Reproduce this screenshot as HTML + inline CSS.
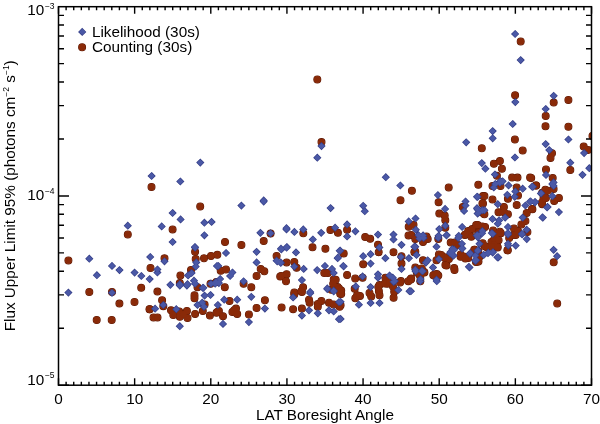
<!DOCTYPE html>
<html><head><meta charset="utf-8"><style>
html,body{margin:0;padding:0;background:#fff;}
svg{display:block;-webkit-font-smoothing:antialiased;will-change:transform;font-family:"Liberation Sans",sans-serif;}
</style></head><body>
<svg width="600" height="424" viewBox="0 0 600 424">
<defs><clipPath id="pc"><rect x="58.5" y="6.7" width="533.0" height="378.5"/></clipPath></defs>
<rect width="600" height="424" fill="#fff"/>
<g clip-path="url(#pc)">
<g fill="none" stroke="#5e1804" stroke-width="1.1"><circle cx="317.3" cy="79.5" r="3.45"/><circle cx="520.7" cy="41.4" r="3.45"/><circle cx="515.1" cy="95.2" r="3.45"/><circle cx="553.7" cy="102.6" r="3.45"/><circle cx="568.4" cy="100.0" r="3.45"/><circle cx="321.5" cy="142.1" r="3.45"/><circle cx="481.8" cy="148.3" r="3.45"/><circle cx="493.9" cy="163.7" r="3.45"/><circle cx="499.9" cy="161.1" r="3.45"/><circle cx="501.9" cy="168.7" r="3.45"/><circle cx="496.9" cy="175.8" r="3.45"/><circle cx="545.7" cy="116.0" r="3.45"/><circle cx="545.5" cy="126.3" r="3.45"/><circle cx="568.4" cy="126.7" r="3.45"/><circle cx="514.9" cy="139.5" r="3.45"/><circle cx="592.5" cy="136.0" r="3.45"/><circle cx="522.7" cy="150.5" r="3.45"/><circle cx="552.0" cy="153.2" r="3.45"/><circle cx="550.5" cy="157.9" r="3.45"/><circle cx="583.7" cy="146.5" r="3.45"/><circle cx="588.2" cy="149.9" r="3.45"/><circle cx="570.3" cy="170.0" r="3.45"/><circle cx="546.0" cy="169.5" r="3.45"/><circle cx="552.7" cy="178.0" r="3.45"/><circle cx="512.1" cy="177.6" r="3.45"/><circle cx="517.5" cy="177.6" r="3.45"/><circle cx="530.1" cy="177.6" r="3.45"/><circle cx="151.5" cy="187.0" r="3.45"/><circle cx="127.8" cy="234.4" r="3.45"/><circle cx="200.2" cy="206.5" r="3.45"/><circle cx="172.6" cy="229.4" r="3.45"/><circle cx="225.0" cy="242.0" r="3.45"/><circle cx="241.4" cy="245.0" r="3.45"/><circle cx="270.6" cy="233.6" r="3.45"/><circle cx="263.7" cy="241.1" r="3.45"/><circle cx="303.3" cy="233.3" r="3.45"/><circle cx="312.5" cy="247.3" r="3.45"/><circle cx="325.4" cy="248.7" r="3.45"/><circle cx="330.4" cy="229.9" r="3.45"/><circle cx="337.9" cy="232.8" r="3.45"/><circle cx="411.9" cy="190.8" r="3.45"/><circle cx="400.5" cy="200.2" r="3.45"/><circle cx="347.1" cy="229.7" r="3.45"/><circle cx="365.2" cy="237.0" r="3.45"/><circle cx="370.2" cy="238.7" r="3.45"/><circle cx="408.7" cy="226.8" r="3.45"/><circle cx="413.5" cy="224.8" r="3.45"/><circle cx="408.5" cy="235.5" r="3.45"/><circle cx="448.7" cy="187.4" r="3.45"/><circle cx="478.3" cy="184.7" r="3.45"/><circle cx="438.6" cy="202.2" r="3.45"/><circle cx="439.3" cy="213.6" r="3.45"/><circle cx="444.7" cy="215.6" r="3.45"/><circle cx="445.3" cy="220.3" r="3.45"/><circle cx="445.3" cy="227.7" r="3.45"/><circle cx="462.8" cy="206.9" r="3.45"/><circle cx="483.0" cy="196.1" r="3.45"/><circle cx="483.0" cy="203.5" r="3.45"/><circle cx="479.6" cy="211.6" r="3.45"/><circle cx="483.6" cy="213.6" r="3.45"/><circle cx="468.2" cy="231.1" r="3.45"/><circle cx="472.2" cy="229.1" r="3.45"/><circle cx="476.2" cy="225.0" r="3.45"/><circle cx="482.3" cy="226.4" r="3.45"/><circle cx="478.3" cy="233.1" r="3.45"/><circle cx="464.8" cy="235.1" r="3.45"/><circle cx="426.5" cy="236.5" r="3.45"/><circle cx="492.5" cy="186.0" r="3.45"/><circle cx="500.5" cy="186.0" r="3.45"/><circle cx="516.7" cy="187.4" r="3.45"/><circle cx="536.2" cy="185.4" r="3.45"/><circle cx="484.4" cy="196.1" r="3.45"/><circle cx="492.5" cy="199.5" r="3.45"/><circle cx="507.9" cy="198.8" r="3.45"/><circle cx="518.0" cy="195.5" r="3.45"/><circle cx="542.2" cy="192.8" r="3.45"/><circle cx="547.6" cy="190.8" r="3.45"/><circle cx="543.5" cy="198.8" r="3.45"/><circle cx="482.4" cy="203.5" r="3.45"/><circle cx="503.9" cy="206.9" r="3.45"/><circle cx="516.7" cy="204.9" r="3.45"/><circle cx="542.2" cy="204.2" r="3.45"/><circle cx="484.4" cy="214.3" r="3.45"/><circle cx="498.5" cy="212.3" r="3.45"/><circle cx="503.9" cy="212.3" r="3.45"/><circle cx="507.9" cy="214.3" r="3.45"/><circle cx="526.7" cy="212.9" r="3.45"/><circle cx="532.1" cy="208.9" r="3.45"/><circle cx="477.7" cy="225.0" r="3.45"/><circle cx="485.1" cy="227.0" r="3.45"/><circle cx="479.0" cy="232.4" r="3.45"/><circle cx="493.1" cy="230.4" r="3.45"/><circle cx="499.9" cy="231.7" r="3.45"/><circle cx="514.0" cy="228.4" r="3.45"/><circle cx="518.0" cy="231.1" r="3.45"/><circle cx="521.4" cy="224.4" r="3.45"/><circle cx="525.4" cy="221.0" r="3.45"/><circle cx="514.0" cy="235.1" r="3.45"/><circle cx="531.2" cy="177.9" r="3.45"/><circle cx="535.9" cy="185.6" r="3.45"/><circle cx="545.3" cy="189.7" r="3.45"/><circle cx="553.6" cy="189.1" r="3.45"/><circle cx="543.6" cy="195.6" r="3.45"/><circle cx="545.9" cy="198.0" r="3.45"/><circle cx="558.9" cy="198.0" r="3.45"/><circle cx="554.2" cy="200.9" r="3.45"/><circle cx="541.8" cy="202.7" r="3.45"/><circle cx="532.4" cy="209.2" r="3.45"/><circle cx="378.0" cy="244.8" r="3.45"/><circle cx="378.7" cy="252.2" r="3.45"/><circle cx="393.5" cy="252.2" r="3.45"/><circle cx="414.3" cy="252.2" r="3.45"/><circle cx="343.7" cy="253.5" r="3.45"/><circle cx="363.2" cy="264.3" r="3.45"/><circle cx="401.5" cy="256.2" r="3.45"/><circle cx="401.5" cy="263.6" r="3.45"/><circle cx="347.1" cy="275.0" r="3.45"/><circle cx="355.2" cy="278.4" r="3.45"/><circle cx="362.6" cy="277.7" r="3.45"/><circle cx="385.4" cy="277.7" r="3.45"/><circle cx="387.4" cy="283.7" r="3.45"/><circle cx="400.9" cy="281.1" r="3.45"/><circle cx="379.4" cy="285.1" r="3.45"/><circle cx="410.9" cy="279.0" r="3.45"/><circle cx="337.7" cy="287.1" r="3.45"/><circle cx="335.7" cy="279.7" r="3.45"/><circle cx="68.4" cy="260.4" r="3.45"/><circle cx="150.5" cy="268.0" r="3.45"/><circle cx="89.3" cy="292.0" r="3.45"/><circle cx="112.0" cy="292.0" r="3.45"/><circle cx="141.2" cy="287.8" r="3.45"/><circle cx="119.4" cy="303.6" r="3.45"/><circle cx="134.5" cy="301.9" r="3.45"/><circle cx="149.5" cy="309.2" r="3.45"/><circle cx="96.7" cy="320.0" r="3.45"/><circle cx="111.7" cy="320.0" r="3.45"/><circle cx="164.5" cy="258.3" r="3.45"/><circle cx="157.4" cy="291.6" r="3.45"/><circle cx="195.1" cy="251.8" r="3.45"/><circle cx="195.7" cy="258.9" r="3.45"/><circle cx="191.0" cy="270.1" r="3.45"/><circle cx="180.4" cy="275.4" r="3.45"/><circle cx="179.8" cy="283.1" r="3.45"/><circle cx="197.5" cy="287.2" r="3.45"/><circle cx="204.0" cy="258.3" r="3.45"/><circle cx="211.0" cy="256.0" r="3.45"/><circle cx="217.3" cy="254.8" r="3.45"/><circle cx="210.5" cy="283.7" r="3.45"/><circle cx="216.3" cy="281.9" r="3.45"/><circle cx="220.7" cy="270.7" r="3.45"/><circle cx="226.0" cy="269.5" r="3.45"/><circle cx="224.8" cy="287.2" r="3.45"/><circle cx="243.6" cy="283.7" r="3.45"/><circle cx="251.3" cy="287.2" r="3.45"/><circle cx="260.7" cy="268.9" r="3.45"/><circle cx="264.3" cy="271.3" r="3.45"/><circle cx="256.6" cy="276.0" r="3.45"/><circle cx="276.6" cy="256.0" r="3.45"/><circle cx="280.2" cy="276.6" r="3.45"/><circle cx="286.6" cy="262.4" r="3.45"/><circle cx="294.3" cy="261.9" r="3.45"/><circle cx="296.6" cy="267.7" r="3.45"/><circle cx="281.3" cy="276.0" r="3.45"/><circle cx="286.6" cy="274.2" r="3.45"/><circle cx="286.0" cy="281.3" r="3.45"/><circle cx="303.1" cy="287.2" r="3.45"/><circle cx="301.3" cy="291.3" r="3.45"/><circle cx="294.3" cy="292.5" r="3.45"/><circle cx="324.3" cy="273.0" r="3.45"/><circle cx="327.9" cy="273.0" r="3.45"/><circle cx="333.7" cy="279.5" r="3.45"/><circle cx="333.2" cy="283.7" r="3.45"/><circle cx="339.0" cy="288.4" r="3.45"/><circle cx="162.1" cy="300.3" r="3.45"/><circle cx="163.3" cy="306.2" r="3.45"/><circle cx="149.8" cy="309.2" r="3.45"/><circle cx="153.5" cy="317.4" r="3.45"/><circle cx="157.5" cy="317.4" r="3.45"/><circle cx="171.0" cy="310.3" r="3.45"/><circle cx="173.3" cy="315.0" r="3.45"/><circle cx="179.2" cy="311.5" r="3.45"/><circle cx="179.8" cy="316.8" r="3.45"/><circle cx="186.9" cy="310.9" r="3.45"/><circle cx="187.5" cy="318.0" r="3.45"/><circle cx="183.4" cy="314.5" r="3.45"/><circle cx="195.1" cy="313.9" r="3.45"/><circle cx="194.5" cy="295.2" r="3.45"/><circle cx="194.5" cy="298.2" r="3.45"/><circle cx="204.6" cy="304.4" r="3.45"/><circle cx="202.8" cy="310.9" r="3.45"/><circle cx="209.9" cy="315.6" r="3.45"/><circle cx="217.3" cy="312.1" r="3.45"/><circle cx="229.5" cy="300.9" r="3.45"/><circle cx="218.9" cy="310.9" r="3.45"/><circle cx="216.5" cy="312.7" r="3.45"/><circle cx="223.0" cy="316.2" r="3.45"/><circle cx="234.2" cy="310.3" r="3.45"/><circle cx="232.4" cy="312.1" r="3.45"/><circle cx="237.2" cy="313.9" r="3.45"/><circle cx="236.0" cy="308.6" r="3.45"/><circle cx="248.9" cy="314.5" r="3.45"/><circle cx="256.6" cy="308.0" r="3.45"/><circle cx="264.9" cy="300.3" r="3.45"/><circle cx="281.6" cy="307.4" r="3.45"/><circle cx="301.9" cy="292.1" r="3.45"/><circle cx="294.3" cy="294.4" r="3.45"/><circle cx="309.0" cy="299.7" r="3.45"/><circle cx="309.6" cy="302.7" r="3.45"/><circle cx="317.8" cy="303.9" r="3.45"/><circle cx="317.8" cy="306.8" r="3.45"/><circle cx="321.4" cy="300.9" r="3.45"/><circle cx="293.1" cy="309.2" r="3.45"/><circle cx="301.9" cy="308.6" r="3.45"/><circle cx="331.4" cy="289.7" r="3.45"/><circle cx="338.5" cy="289.7" r="3.45"/><circle cx="340.2" cy="293.8" r="3.45"/><circle cx="329.0" cy="302.7" r="3.45"/><circle cx="333.7" cy="304.4" r="3.45"/><circle cx="339.6" cy="306.8" r="3.45"/><circle cx="354.7" cy="288.8" r="3.45"/><circle cx="357.1" cy="295.3" r="3.45"/><circle cx="355.3" cy="298.3" r="3.45"/><circle cx="360.0" cy="295.9" r="3.45"/><circle cx="341.2" cy="290.6" r="3.45"/><circle cx="341.2" cy="294.1" r="3.45"/><circle cx="340.6" cy="305.3" r="3.45"/><circle cx="369.5" cy="293.0" r="3.45"/><circle cx="371.2" cy="296.5" r="3.45"/><circle cx="378.3" cy="287.1" r="3.45"/><circle cx="378.9" cy="291.2" r="3.45"/><circle cx="379.5" cy="295.3" r="3.45"/><circle cx="384.8" cy="283.5" r="3.45"/><circle cx="389.5" cy="282.4" r="3.45"/><circle cx="393.0" cy="286.5" r="3.45"/><circle cx="393.6" cy="297.7" r="3.45"/><circle cx="394.2" cy="291.8" r="3.45"/><circle cx="400.1" cy="282.4" r="3.45"/><circle cx="408.3" cy="281.2" r="3.45"/><circle cx="411.2" cy="234.9" r="3.45"/><circle cx="415.3" cy="239.1" r="3.45"/><circle cx="427.7" cy="239.1" r="3.45"/><circle cx="423.0" cy="242.0" r="3.45"/><circle cx="415.3" cy="251.4" r="3.45"/><circle cx="423.0" cy="260.3" r="3.45"/><circle cx="415.3" cy="267.4" r="3.45"/><circle cx="421.8" cy="268.5" r="3.45"/><circle cx="424.1" cy="272.1" r="3.45"/><circle cx="419.4" cy="274.4" r="3.45"/><circle cx="411.2" cy="278.5" r="3.45"/><circle cx="434.7" cy="274.4" r="3.45"/><circle cx="438.3" cy="275.6" r="3.45"/><circle cx="438.3" cy="239.1" r="3.45"/><circle cx="450.7" cy="242.6" r="3.45"/><circle cx="454.8" cy="242.6" r="3.45"/><circle cx="438.9" cy="254.4" r="3.45"/><circle cx="436.5" cy="260.3" r="3.45"/><circle cx="444.8" cy="257.3" r="3.45"/><circle cx="448.9" cy="259.1" r="3.45"/><circle cx="445.4" cy="265.0" r="3.45"/><circle cx="454.2" cy="267.9" r="3.45"/><circle cx="458.3" cy="245.0" r="3.45"/><circle cx="460.7" cy="254.4" r="3.45"/><circle cx="464.8" cy="256.7" r="3.45"/><circle cx="465.4" cy="234.4" r="3.45"/><circle cx="471.3" cy="236.7" r="3.45"/><circle cx="474.2" cy="249.7" r="3.45"/><circle cx="478.3" cy="250.9" r="3.45"/><circle cx="479.5" cy="256.7" r="3.45"/><circle cx="468.3" cy="257.9" r="3.45"/><circle cx="476.0" cy="262.0" r="3.45"/><circle cx="482.7" cy="243.2" r="3.45"/><circle cx="486.8" cy="247.3" r="3.45"/><circle cx="491.5" cy="242.0" r="3.45"/><circle cx="494.4" cy="239.1" r="3.45"/><circle cx="498.6" cy="240.2" r="3.45"/><circle cx="497.4" cy="246.7" r="3.45"/><circle cx="493.9" cy="245.0" r="3.45"/><circle cx="496.8" cy="233.8" r="3.45"/><circle cx="500.9" cy="233.2" r="3.45"/><circle cx="509.2" cy="237.9" r="3.45"/><circle cx="507.4" cy="250.3" r="3.45"/><circle cx="515.7" cy="234.9" r="3.45"/><circle cx="527.4" cy="232.0" r="3.45"/><circle cx="476.8" cy="253.2" r="3.45"/><circle cx="478.5" cy="261.5" r="3.45"/><circle cx="553.7" cy="262.3" r="3.45"/><circle cx="557.2" cy="303.5" r="3.45"/><circle cx="410.9" cy="279.4" r="3.45"/><circle cx="420.3" cy="281.2" r="3.45"/><circle cx="420.3" cy="276.5" r="3.45"/><circle cx="416.8" cy="272.4" r="3.45"/><circle cx="424.4" cy="272.4" r="3.45"/><circle cx="433.3" cy="275.3" r="3.45"/><circle cx="436.8" cy="274.1" r="3.45"/><circle cx="454.5" cy="270.0" r="3.45"/><circle cx="444.7" cy="258.0" r="3.45"/><circle cx="441.2" cy="255.0" r="3.45"/><circle cx="446.5" cy="265.6" r="3.45"/><circle cx="460.6" cy="256.8" r="3.45"/><circle cx="465.3" cy="258.6" r="3.45"/><circle cx="474.8" cy="249.7" r="3.45"/><circle cx="477.7" cy="261.5" r="3.45"/><circle cx="484.8" cy="246.2" r="3.45"/><circle cx="491.9" cy="246.8" r="3.45"/><circle cx="497.7" cy="247.4" r="3.45"/><circle cx="507.8" cy="250.3" r="3.45"/></g>
<g fill="#8a2a08"><circle cx="317.3" cy="79.5" r="3.45"/><circle cx="520.7" cy="41.4" r="3.45"/><circle cx="515.1" cy="95.2" r="3.45"/><circle cx="553.7" cy="102.6" r="3.45"/><circle cx="568.4" cy="100.0" r="3.45"/><circle cx="321.5" cy="142.1" r="3.45"/><circle cx="481.8" cy="148.3" r="3.45"/><circle cx="493.9" cy="163.7" r="3.45"/><circle cx="499.9" cy="161.1" r="3.45"/><circle cx="501.9" cy="168.7" r="3.45"/><circle cx="496.9" cy="175.8" r="3.45"/><circle cx="545.7" cy="116.0" r="3.45"/><circle cx="545.5" cy="126.3" r="3.45"/><circle cx="568.4" cy="126.7" r="3.45"/><circle cx="514.9" cy="139.5" r="3.45"/><circle cx="592.5" cy="136.0" r="3.45"/><circle cx="522.7" cy="150.5" r="3.45"/><circle cx="552.0" cy="153.2" r="3.45"/><circle cx="550.5" cy="157.9" r="3.45"/><circle cx="583.7" cy="146.5" r="3.45"/><circle cx="588.2" cy="149.9" r="3.45"/><circle cx="570.3" cy="170.0" r="3.45"/><circle cx="546.0" cy="169.5" r="3.45"/><circle cx="552.7" cy="178.0" r="3.45"/><circle cx="512.1" cy="177.6" r="3.45"/><circle cx="517.5" cy="177.6" r="3.45"/><circle cx="530.1" cy="177.6" r="3.45"/><circle cx="151.5" cy="187.0" r="3.45"/><circle cx="127.8" cy="234.4" r="3.45"/><circle cx="200.2" cy="206.5" r="3.45"/><circle cx="172.6" cy="229.4" r="3.45"/><circle cx="225.0" cy="242.0" r="3.45"/><circle cx="241.4" cy="245.0" r="3.45"/><circle cx="270.6" cy="233.6" r="3.45"/><circle cx="263.7" cy="241.1" r="3.45"/><circle cx="303.3" cy="233.3" r="3.45"/><circle cx="312.5" cy="247.3" r="3.45"/><circle cx="325.4" cy="248.7" r="3.45"/><circle cx="330.4" cy="229.9" r="3.45"/><circle cx="337.9" cy="232.8" r="3.45"/><circle cx="411.9" cy="190.8" r="3.45"/><circle cx="400.5" cy="200.2" r="3.45"/><circle cx="347.1" cy="229.7" r="3.45"/><circle cx="365.2" cy="237.0" r="3.45"/><circle cx="370.2" cy="238.7" r="3.45"/><circle cx="408.7" cy="226.8" r="3.45"/><circle cx="413.5" cy="224.8" r="3.45"/><circle cx="408.5" cy="235.5" r="3.45"/><circle cx="448.7" cy="187.4" r="3.45"/><circle cx="478.3" cy="184.7" r="3.45"/><circle cx="438.6" cy="202.2" r="3.45"/><circle cx="439.3" cy="213.6" r="3.45"/><circle cx="444.7" cy="215.6" r="3.45"/><circle cx="445.3" cy="220.3" r="3.45"/><circle cx="445.3" cy="227.7" r="3.45"/><circle cx="462.8" cy="206.9" r="3.45"/><circle cx="483.0" cy="196.1" r="3.45"/><circle cx="483.0" cy="203.5" r="3.45"/><circle cx="479.6" cy="211.6" r="3.45"/><circle cx="483.6" cy="213.6" r="3.45"/><circle cx="468.2" cy="231.1" r="3.45"/><circle cx="472.2" cy="229.1" r="3.45"/><circle cx="476.2" cy="225.0" r="3.45"/><circle cx="482.3" cy="226.4" r="3.45"/><circle cx="478.3" cy="233.1" r="3.45"/><circle cx="464.8" cy="235.1" r="3.45"/><circle cx="426.5" cy="236.5" r="3.45"/><circle cx="492.5" cy="186.0" r="3.45"/><circle cx="500.5" cy="186.0" r="3.45"/><circle cx="516.7" cy="187.4" r="3.45"/><circle cx="536.2" cy="185.4" r="3.45"/><circle cx="484.4" cy="196.1" r="3.45"/><circle cx="492.5" cy="199.5" r="3.45"/><circle cx="507.9" cy="198.8" r="3.45"/><circle cx="518.0" cy="195.5" r="3.45"/><circle cx="542.2" cy="192.8" r="3.45"/><circle cx="547.6" cy="190.8" r="3.45"/><circle cx="543.5" cy="198.8" r="3.45"/><circle cx="482.4" cy="203.5" r="3.45"/><circle cx="503.9" cy="206.9" r="3.45"/><circle cx="516.7" cy="204.9" r="3.45"/><circle cx="542.2" cy="204.2" r="3.45"/><circle cx="484.4" cy="214.3" r="3.45"/><circle cx="498.5" cy="212.3" r="3.45"/><circle cx="503.9" cy="212.3" r="3.45"/><circle cx="507.9" cy="214.3" r="3.45"/><circle cx="526.7" cy="212.9" r="3.45"/><circle cx="532.1" cy="208.9" r="3.45"/><circle cx="477.7" cy="225.0" r="3.45"/><circle cx="485.1" cy="227.0" r="3.45"/><circle cx="479.0" cy="232.4" r="3.45"/><circle cx="493.1" cy="230.4" r="3.45"/><circle cx="499.9" cy="231.7" r="3.45"/><circle cx="514.0" cy="228.4" r="3.45"/><circle cx="518.0" cy="231.1" r="3.45"/><circle cx="521.4" cy="224.4" r="3.45"/><circle cx="525.4" cy="221.0" r="3.45"/><circle cx="514.0" cy="235.1" r="3.45"/><circle cx="531.2" cy="177.9" r="3.45"/><circle cx="535.9" cy="185.6" r="3.45"/><circle cx="545.3" cy="189.7" r="3.45"/><circle cx="553.6" cy="189.1" r="3.45"/><circle cx="543.6" cy="195.6" r="3.45"/><circle cx="545.9" cy="198.0" r="3.45"/><circle cx="558.9" cy="198.0" r="3.45"/><circle cx="554.2" cy="200.9" r="3.45"/><circle cx="541.8" cy="202.7" r="3.45"/><circle cx="532.4" cy="209.2" r="3.45"/><circle cx="378.0" cy="244.8" r="3.45"/><circle cx="378.7" cy="252.2" r="3.45"/><circle cx="393.5" cy="252.2" r="3.45"/><circle cx="414.3" cy="252.2" r="3.45"/><circle cx="343.7" cy="253.5" r="3.45"/><circle cx="363.2" cy="264.3" r="3.45"/><circle cx="401.5" cy="256.2" r="3.45"/><circle cx="401.5" cy="263.6" r="3.45"/><circle cx="347.1" cy="275.0" r="3.45"/><circle cx="355.2" cy="278.4" r="3.45"/><circle cx="362.6" cy="277.7" r="3.45"/><circle cx="385.4" cy="277.7" r="3.45"/><circle cx="387.4" cy="283.7" r="3.45"/><circle cx="400.9" cy="281.1" r="3.45"/><circle cx="379.4" cy="285.1" r="3.45"/><circle cx="410.9" cy="279.0" r="3.45"/><circle cx="337.7" cy="287.1" r="3.45"/><circle cx="335.7" cy="279.7" r="3.45"/><circle cx="68.4" cy="260.4" r="3.45"/><circle cx="150.5" cy="268.0" r="3.45"/><circle cx="89.3" cy="292.0" r="3.45"/><circle cx="112.0" cy="292.0" r="3.45"/><circle cx="141.2" cy="287.8" r="3.45"/><circle cx="119.4" cy="303.6" r="3.45"/><circle cx="134.5" cy="301.9" r="3.45"/><circle cx="149.5" cy="309.2" r="3.45"/><circle cx="96.7" cy="320.0" r="3.45"/><circle cx="111.7" cy="320.0" r="3.45"/><circle cx="164.5" cy="258.3" r="3.45"/><circle cx="157.4" cy="291.6" r="3.45"/><circle cx="195.1" cy="251.8" r="3.45"/><circle cx="195.7" cy="258.9" r="3.45"/><circle cx="191.0" cy="270.1" r="3.45"/><circle cx="180.4" cy="275.4" r="3.45"/><circle cx="179.8" cy="283.1" r="3.45"/><circle cx="197.5" cy="287.2" r="3.45"/><circle cx="204.0" cy="258.3" r="3.45"/><circle cx="211.0" cy="256.0" r="3.45"/><circle cx="217.3" cy="254.8" r="3.45"/><circle cx="210.5" cy="283.7" r="3.45"/><circle cx="216.3" cy="281.9" r="3.45"/><circle cx="220.7" cy="270.7" r="3.45"/><circle cx="226.0" cy="269.5" r="3.45"/><circle cx="224.8" cy="287.2" r="3.45"/><circle cx="243.6" cy="283.7" r="3.45"/><circle cx="251.3" cy="287.2" r="3.45"/><circle cx="260.7" cy="268.9" r="3.45"/><circle cx="264.3" cy="271.3" r="3.45"/><circle cx="256.6" cy="276.0" r="3.45"/><circle cx="276.6" cy="256.0" r="3.45"/><circle cx="280.2" cy="276.6" r="3.45"/><circle cx="286.6" cy="262.4" r="3.45"/><circle cx="294.3" cy="261.9" r="3.45"/><circle cx="296.6" cy="267.7" r="3.45"/><circle cx="281.3" cy="276.0" r="3.45"/><circle cx="286.6" cy="274.2" r="3.45"/><circle cx="286.0" cy="281.3" r="3.45"/><circle cx="303.1" cy="287.2" r="3.45"/><circle cx="301.3" cy="291.3" r="3.45"/><circle cx="294.3" cy="292.5" r="3.45"/><circle cx="324.3" cy="273.0" r="3.45"/><circle cx="327.9" cy="273.0" r="3.45"/><circle cx="333.7" cy="279.5" r="3.45"/><circle cx="333.2" cy="283.7" r="3.45"/><circle cx="339.0" cy="288.4" r="3.45"/><circle cx="162.1" cy="300.3" r="3.45"/><circle cx="163.3" cy="306.2" r="3.45"/><circle cx="149.8" cy="309.2" r="3.45"/><circle cx="153.5" cy="317.4" r="3.45"/><circle cx="157.5" cy="317.4" r="3.45"/><circle cx="171.0" cy="310.3" r="3.45"/><circle cx="173.3" cy="315.0" r="3.45"/><circle cx="179.2" cy="311.5" r="3.45"/><circle cx="179.8" cy="316.8" r="3.45"/><circle cx="186.9" cy="310.9" r="3.45"/><circle cx="187.5" cy="318.0" r="3.45"/><circle cx="183.4" cy="314.5" r="3.45"/><circle cx="195.1" cy="313.9" r="3.45"/><circle cx="194.5" cy="295.2" r="3.45"/><circle cx="194.5" cy="298.2" r="3.45"/><circle cx="204.6" cy="304.4" r="3.45"/><circle cx="202.8" cy="310.9" r="3.45"/><circle cx="209.9" cy="315.6" r="3.45"/><circle cx="217.3" cy="312.1" r="3.45"/><circle cx="229.5" cy="300.9" r="3.45"/><circle cx="218.9" cy="310.9" r="3.45"/><circle cx="216.5" cy="312.7" r="3.45"/><circle cx="223.0" cy="316.2" r="3.45"/><circle cx="234.2" cy="310.3" r="3.45"/><circle cx="232.4" cy="312.1" r="3.45"/><circle cx="237.2" cy="313.9" r="3.45"/><circle cx="236.0" cy="308.6" r="3.45"/><circle cx="248.9" cy="314.5" r="3.45"/><circle cx="256.6" cy="308.0" r="3.45"/><circle cx="264.9" cy="300.3" r="3.45"/><circle cx="281.6" cy="307.4" r="3.45"/><circle cx="301.9" cy="292.1" r="3.45"/><circle cx="294.3" cy="294.4" r="3.45"/><circle cx="309.0" cy="299.7" r="3.45"/><circle cx="309.6" cy="302.7" r="3.45"/><circle cx="317.8" cy="303.9" r="3.45"/><circle cx="317.8" cy="306.8" r="3.45"/><circle cx="321.4" cy="300.9" r="3.45"/><circle cx="293.1" cy="309.2" r="3.45"/><circle cx="301.9" cy="308.6" r="3.45"/><circle cx="331.4" cy="289.7" r="3.45"/><circle cx="338.5" cy="289.7" r="3.45"/><circle cx="340.2" cy="293.8" r="3.45"/><circle cx="329.0" cy="302.7" r="3.45"/><circle cx="333.7" cy="304.4" r="3.45"/><circle cx="339.6" cy="306.8" r="3.45"/><circle cx="354.7" cy="288.8" r="3.45"/><circle cx="357.1" cy="295.3" r="3.45"/><circle cx="355.3" cy="298.3" r="3.45"/><circle cx="360.0" cy="295.9" r="3.45"/><circle cx="341.2" cy="290.6" r="3.45"/><circle cx="341.2" cy="294.1" r="3.45"/><circle cx="340.6" cy="305.3" r="3.45"/><circle cx="369.5" cy="293.0" r="3.45"/><circle cx="371.2" cy="296.5" r="3.45"/><circle cx="378.3" cy="287.1" r="3.45"/><circle cx="378.9" cy="291.2" r="3.45"/><circle cx="379.5" cy="295.3" r="3.45"/><circle cx="384.8" cy="283.5" r="3.45"/><circle cx="389.5" cy="282.4" r="3.45"/><circle cx="393.0" cy="286.5" r="3.45"/><circle cx="393.6" cy="297.7" r="3.45"/><circle cx="394.2" cy="291.8" r="3.45"/><circle cx="400.1" cy="282.4" r="3.45"/><circle cx="408.3" cy="281.2" r="3.45"/><circle cx="411.2" cy="234.9" r="3.45"/><circle cx="415.3" cy="239.1" r="3.45"/><circle cx="427.7" cy="239.1" r="3.45"/><circle cx="423.0" cy="242.0" r="3.45"/><circle cx="415.3" cy="251.4" r="3.45"/><circle cx="423.0" cy="260.3" r="3.45"/><circle cx="415.3" cy="267.4" r="3.45"/><circle cx="421.8" cy="268.5" r="3.45"/><circle cx="424.1" cy="272.1" r="3.45"/><circle cx="419.4" cy="274.4" r="3.45"/><circle cx="411.2" cy="278.5" r="3.45"/><circle cx="434.7" cy="274.4" r="3.45"/><circle cx="438.3" cy="275.6" r="3.45"/><circle cx="438.3" cy="239.1" r="3.45"/><circle cx="450.7" cy="242.6" r="3.45"/><circle cx="454.8" cy="242.6" r="3.45"/><circle cx="438.9" cy="254.4" r="3.45"/><circle cx="436.5" cy="260.3" r="3.45"/><circle cx="444.8" cy="257.3" r="3.45"/><circle cx="448.9" cy="259.1" r="3.45"/><circle cx="445.4" cy="265.0" r="3.45"/><circle cx="454.2" cy="267.9" r="3.45"/><circle cx="458.3" cy="245.0" r="3.45"/><circle cx="460.7" cy="254.4" r="3.45"/><circle cx="464.8" cy="256.7" r="3.45"/><circle cx="465.4" cy="234.4" r="3.45"/><circle cx="471.3" cy="236.7" r="3.45"/><circle cx="474.2" cy="249.7" r="3.45"/><circle cx="478.3" cy="250.9" r="3.45"/><circle cx="479.5" cy="256.7" r="3.45"/><circle cx="468.3" cy="257.9" r="3.45"/><circle cx="476.0" cy="262.0" r="3.45"/><circle cx="482.7" cy="243.2" r="3.45"/><circle cx="486.8" cy="247.3" r="3.45"/><circle cx="491.5" cy="242.0" r="3.45"/><circle cx="494.4" cy="239.1" r="3.45"/><circle cx="498.6" cy="240.2" r="3.45"/><circle cx="497.4" cy="246.7" r="3.45"/><circle cx="493.9" cy="245.0" r="3.45"/><circle cx="496.8" cy="233.8" r="3.45"/><circle cx="500.9" cy="233.2" r="3.45"/><circle cx="509.2" cy="237.9" r="3.45"/><circle cx="507.4" cy="250.3" r="3.45"/><circle cx="515.7" cy="234.9" r="3.45"/><circle cx="527.4" cy="232.0" r="3.45"/><circle cx="476.8" cy="253.2" r="3.45"/><circle cx="478.5" cy="261.5" r="3.45"/><circle cx="553.7" cy="262.3" r="3.45"/><circle cx="557.2" cy="303.5" r="3.45"/><circle cx="410.9" cy="279.4" r="3.45"/><circle cx="420.3" cy="281.2" r="3.45"/><circle cx="420.3" cy="276.5" r="3.45"/><circle cx="416.8" cy="272.4" r="3.45"/><circle cx="424.4" cy="272.4" r="3.45"/><circle cx="433.3" cy="275.3" r="3.45"/><circle cx="436.8" cy="274.1" r="3.45"/><circle cx="454.5" cy="270.0" r="3.45"/><circle cx="444.7" cy="258.0" r="3.45"/><circle cx="441.2" cy="255.0" r="3.45"/><circle cx="446.5" cy="265.6" r="3.45"/><circle cx="460.6" cy="256.8" r="3.45"/><circle cx="465.3" cy="258.6" r="3.45"/><circle cx="474.8" cy="249.7" r="3.45"/><circle cx="477.7" cy="261.5" r="3.45"/><circle cx="484.8" cy="246.2" r="3.45"/><circle cx="491.9" cy="246.8" r="3.45"/><circle cx="497.7" cy="247.4" r="3.45"/><circle cx="507.8" cy="250.3" r="3.45"/></g>
<path d="M515.1 30.8L518.3 34.0L515.1 37.2L511.9 34.0ZM520.7 56.9L523.9 60.1L520.7 63.3L517.5 60.1ZM515.3 98.9L518.5 102.1L515.3 105.3L512.1 102.1ZM553.7 92.6L556.9 95.8L553.7 99.0L550.5 95.8ZM151.6 172.8L154.8 176.0L151.6 179.2L148.4 176.0ZM200.3 159.4L203.5 162.6L200.3 165.8L197.1 162.6ZM180.3 178.3L183.5 181.5L180.3 184.7L177.1 181.5ZM321.5 142.9L324.7 146.1L321.5 149.3L318.3 146.1ZM317.3 154.5L320.5 157.7L317.3 160.9L314.1 157.7ZM385.8 174.0L389.0 177.2L385.8 180.4L382.6 177.2ZM400.3 182.3L403.5 185.5L400.3 188.7L397.1 185.5ZM492.7 127.9L495.9 131.1L492.7 134.3L489.5 131.1ZM492.7 135.1L495.9 138.3L492.7 141.5L489.5 138.3ZM466.2 139.1L469.4 142.3L466.2 145.5L463.0 142.3ZM481.8 159.9L485.0 163.1L481.8 166.3L478.6 163.1ZM485.4 165.5L488.6 168.7L485.4 171.9L482.2 168.7ZM494.9 171.3L498.1 174.5L494.9 177.7L491.7 174.5ZM500.4 178.0L503.6 181.2L500.4 184.4L497.2 181.2ZM545.7 105.8L548.9 109.0L545.7 112.2L542.5 109.0ZM512.7 120.8L515.9 124.0L512.7 127.2L509.5 124.0ZM568.4 136.3L571.6 139.5L568.4 142.7L565.2 139.5ZM545.7 140.9L548.9 144.1L545.7 147.3L542.5 144.1ZM549.3 146.9L552.5 150.1L549.3 153.3L546.1 150.1ZM584.1 149.9L587.3 153.1L584.1 156.3L580.9 153.1ZM514.9 154.3L518.1 157.5L514.9 160.7L511.7 157.5ZM570.3 159.5L573.5 162.7L570.3 165.9L567.1 162.7ZM589.3 165.0L592.5 168.2L589.3 171.4L586.1 168.2ZM582.5 171.6L585.7 174.8L582.5 178.0L579.3 174.8ZM546.0 171.7L549.2 174.9L546.0 178.1L542.8 174.9ZM553.6 179.2L556.8 182.4L553.6 185.6L550.4 182.4ZM127.8 222.5L131.0 225.7L127.8 228.9L124.6 225.7ZM241.4 202.4L244.6 205.6L241.4 208.8L238.2 205.6ZM172.6 209.8L175.8 213.0L172.6 216.2L169.4 213.0ZM180.6 216.2L183.8 219.4L180.6 222.6L177.4 219.4ZM161.7 223.2L164.9 226.4L161.7 229.6L158.5 226.4ZM204.4 219.5L207.6 222.7L204.4 225.9L201.2 222.7ZM211.6 218.7L214.8 221.9L211.6 225.1L208.4 221.9ZM204.4 232.1L207.6 235.3L204.4 238.5L201.2 235.3ZM172.6 238.8L175.8 242.0L172.6 245.2L169.4 242.0ZM194.9 243.8L198.1 247.0L194.9 250.2L191.7 247.0ZM263.7 197.2L266.9 200.4L263.7 203.6L260.5 200.4ZM263.7 198.4L266.9 201.6L263.7 204.8L260.5 201.6ZM330.6 204.9L333.8 208.1L330.6 211.3L327.4 208.1ZM260.4 229.6L263.6 232.8L260.4 236.0L257.2 232.8ZM270.6 230.1L273.8 233.3L270.6 236.5L267.4 233.3ZM286.5 225.0L289.7 228.2L286.5 231.4L283.3 228.2ZM286.5 226.2L289.7 229.4L286.5 232.6L283.3 229.4ZM294.4 228.7L297.6 231.9L294.4 235.1L291.2 231.9ZM303.3 226.2L306.5 229.4L303.3 232.6L300.1 229.4ZM321.2 229.6L324.4 232.8L321.2 236.0L318.0 232.8ZM312.8 236.3L316.0 239.5L312.8 242.7L309.6 239.5ZM335.1 224.5L338.3 227.7L335.1 230.9L331.9 227.7ZM281.0 245.5L284.2 248.7L281.0 251.9L277.8 248.7ZM286.8 243.8L290.0 247.0L286.8 250.2L283.6 247.0ZM363.2 202.6L366.4 205.8L363.2 209.0L360.0 205.8ZM364.8 208.0L368.0 211.2L364.8 214.4L361.6 211.2ZM347.1 221.2L350.3 224.4L347.1 227.6L343.9 224.4ZM355.4 228.1L358.6 231.3L355.4 234.5L352.2 231.3ZM347.1 233.3L350.3 236.5L347.1 239.7L343.9 236.5ZM378.0 231.4L381.2 234.6L378.0 237.8L374.8 234.6ZM393.5 231.4L396.7 234.6L393.5 237.8L390.3 234.6ZM408.7 218.2L411.9 221.4L408.7 224.6L405.5 221.4ZM415.5 215.3L418.7 218.5L415.5 221.7L412.3 218.5ZM437.9 191.9L441.1 195.1L437.9 198.3L434.7 195.1ZM445.1 205.7L448.3 208.9L445.1 212.1L441.9 208.9ZM445.3 222.5L448.5 225.7L445.3 228.9L442.1 225.7ZM439.3 225.9L442.5 229.1L439.3 232.3L436.1 229.1ZM465.5 198.3L468.7 201.5L465.5 204.7L462.3 201.5ZM465.5 202.3L468.7 205.5L465.5 208.7L462.3 205.5ZM464.1 207.7L467.3 210.9L464.1 214.1L460.9 210.9ZM477.6 193.6L480.8 196.8L477.6 200.0L474.4 196.8ZM477.6 206.4L480.8 209.6L477.6 212.8L474.4 209.6ZM477.6 210.4L480.8 213.6L477.6 216.8L474.4 213.6ZM482.3 207.0L485.5 210.2L482.3 213.4L479.1 210.2ZM415.8 226.5L419.0 229.7L415.8 232.9L412.6 229.7ZM462.1 223.8L465.3 227.0L462.1 230.2L458.9 227.0ZM482.3 227.9L485.5 231.1L482.3 234.3L479.1 231.1ZM477.6 231.9L480.8 235.1L477.6 238.3L474.4 235.1ZM438.6 232.6L441.8 235.8L438.6 239.0L435.4 235.8ZM446.7 231.9L449.9 235.1L446.7 238.3L443.5 235.1ZM458.8 232.6L462.0 235.8L458.8 239.0L455.6 235.8ZM418.4 231.9L421.6 235.1L418.4 238.3L415.2 235.1ZM423.1 232.2L426.3 235.4L423.1 238.6L419.9 235.4ZM493.8 184.2L497.0 187.4L493.8 190.6L490.6 187.4ZM495.2 180.8L498.4 184.0L495.2 187.2L492.0 184.0ZM499.9 179.5L503.1 182.7L499.9 185.9L496.7 182.7ZM502.6 178.1L505.8 181.3L502.6 184.5L499.4 181.3ZM508.6 182.2L511.8 185.4L508.6 188.6L505.4 185.4ZM522.7 185.5L525.9 188.7L522.7 191.9L519.5 188.7ZM532.1 183.5L535.3 186.7L532.1 189.9L528.9 186.7ZM477.0 193.6L480.2 196.8L477.0 200.0L473.8 196.8ZM507.3 191.6L510.5 194.8L507.3 198.0L504.1 194.8ZM515.3 188.2L518.5 191.4L515.3 194.6L512.1 191.4ZM514.7 193.6L517.9 196.8L514.7 200.0L511.5 196.8ZM540.9 190.2L544.1 193.4L540.9 196.6L537.7 193.4ZM497.8 201.0L501.0 204.2L497.8 207.4L494.6 204.2ZM525.4 202.3L528.6 205.5L525.4 208.7L522.2 205.5ZM530.1 198.3L533.3 201.5L530.1 204.7L526.9 201.5ZM534.8 199.0L538.0 202.2L534.8 205.4L531.6 202.2ZM547.6 203.7L550.8 206.9L547.6 210.1L544.4 206.9ZM477.0 205.0L480.2 208.2L477.0 211.4L473.8 208.2ZM484.4 207.0L487.6 210.2L484.4 213.4L481.2 210.2ZM478.4 209.7L481.6 212.9L478.4 216.1L475.2 212.9ZM505.2 214.4L508.4 217.6L505.2 220.8L502.0 217.6ZM522.7 214.4L525.9 217.6L522.7 220.8L519.5 217.6ZM542.9 214.4L546.1 217.6L542.9 220.8L539.7 217.6ZM492.5 215.8L495.7 219.0L492.5 222.2L489.3 219.0ZM499.2 217.1L502.4 220.3L499.2 223.5L496.0 220.3ZM497.8 220.5L501.0 223.7L497.8 226.9L494.6 223.7ZM482.4 227.9L485.6 231.1L482.4 234.3L479.2 231.1ZM491.8 229.9L495.0 233.1L491.8 236.3L488.6 233.1ZM507.9 223.8L511.1 227.0L507.9 230.2L504.7 227.0ZM507.9 229.9L511.1 233.1L507.9 236.3L504.7 233.1ZM526.7 226.5L529.9 229.7L526.7 232.9L523.5 229.7ZM522.0 230.6L525.2 233.8L522.0 237.0L518.8 233.8ZM553.6 182.8L556.8 186.0L553.6 189.2L550.4 186.0ZM532.9 183.6L536.1 186.8L532.9 190.0L529.7 186.8ZM541.2 190.1L544.4 193.3L541.2 196.5L538.0 193.3ZM552.4 193.0L555.6 196.2L552.4 199.4L549.2 196.2ZM535.3 198.9L538.5 202.1L535.3 205.3L532.1 202.1ZM530.6 198.3L533.8 201.5L530.6 204.7L527.4 201.5ZM547.1 204.2L550.3 207.4L547.1 210.6L543.9 207.4ZM558.9 208.9L562.1 212.1L558.9 215.3L555.7 212.1ZM542.4 214.2L545.6 217.4L542.4 220.6L539.2 217.4ZM552.3 180.8L555.5 184.0L552.3 187.2L549.1 184.0ZM379.4 244.3L382.6 247.5L379.4 250.7L376.2 247.5ZM393.5 236.2L396.7 239.4L393.5 242.6L390.3 239.4ZM401.5 241.6L404.7 244.8L401.5 248.0L398.3 244.8ZM414.3 243.6L417.5 246.8L414.3 250.0L411.1 246.8ZM339.7 247.6L342.9 250.8L339.7 254.0L336.5 250.8ZM337.7 255.0L340.9 258.2L337.7 261.4L334.5 258.2ZM363.2 253.0L366.4 256.2L363.2 259.4L360.0 256.2ZM370.6 251.0L373.8 254.2L370.6 257.4L367.4 254.2ZM370.6 260.4L373.8 263.6L370.6 266.8L367.4 263.6ZM385.4 255.0L388.6 258.2L385.4 261.4L382.2 258.2ZM400.9 253.8L404.1 257.0L400.9 260.2L397.7 257.0ZM408.9 255.0L412.1 258.2L408.9 261.4L405.7 258.2ZM401.5 265.8L404.7 269.0L401.5 272.2L398.3 269.0ZM343.7 263.1L346.9 266.3L343.7 269.5L340.5 266.3ZM362.6 273.2L365.8 276.4L362.6 279.6L359.4 276.4ZM378.0 271.1L381.2 274.3L378.0 277.5L374.8 274.3ZM378.0 274.5L381.2 277.7L378.0 280.9L374.8 277.7ZM392.8 274.5L396.0 277.7L392.8 280.9L389.6 277.7ZM394.8 277.9L398.0 281.1L394.8 284.3L391.6 281.1ZM355.8 283.2L359.0 286.4L355.8 289.6L352.6 286.4ZM370.6 283.9L373.8 287.1L370.6 290.3L367.4 287.1ZM89.3 255.5L92.5 258.7L89.3 261.9L86.1 258.7ZM96.9 272.0L100.1 275.2L96.9 278.4L93.7 275.2ZM112.0 262.7L115.2 265.9L112.0 269.1L108.8 265.9ZM119.5 266.9L122.7 270.1L119.5 273.3L116.3 270.1ZM134.6 269.4L137.8 272.6L134.6 275.8L131.4 272.6ZM141.3 272.8L144.5 276.0L141.3 279.2L138.1 276.0ZM150.2 253.8L153.4 257.0L150.2 260.2L147.0 257.0ZM149.7 275.9L152.9 279.1L149.7 282.3L146.5 279.1ZM68.4 289.4L71.6 292.6L68.4 295.8L65.2 292.6ZM112.0 289.6L115.2 292.8L112.0 296.0L108.8 292.8ZM155.1 305.5L158.3 308.7L155.1 311.9L151.9 308.7ZM164.5 258.1L167.7 261.3L164.5 264.5L161.3 261.3ZM157.4 266.3L160.6 269.5L157.4 272.7L154.2 269.5ZM157.4 269.3L160.6 272.5L157.4 275.7L154.2 272.5ZM195.1 244.5L198.3 247.7L195.1 250.9L191.9 247.7ZM196.3 259.2L199.5 262.4L196.3 265.6L193.1 262.4ZM195.7 263.4L198.9 266.6L195.7 269.8L192.5 266.6ZM191.6 269.8L194.8 273.0L191.6 276.2L188.4 273.0ZM188.1 272.2L191.3 275.4L188.1 278.6L184.9 275.4ZM179.8 281.0L183.0 284.2L179.8 287.4L176.6 284.2ZM170.4 281.6L173.6 284.8L170.4 288.0L167.2 284.8ZM187.5 281.0L190.7 284.2L187.5 287.4L184.3 284.2ZM194.0 277.5L197.2 280.7L194.0 283.9L190.8 280.7ZM195.1 280.5L198.3 283.7L195.1 286.9L191.9 283.7ZM203.4 284.6L206.6 287.8L203.4 291.0L200.2 287.8ZM216.9 262.8L220.1 266.0L216.9 269.2L213.7 266.0ZM211.0 280.5L214.2 283.7L211.0 286.9L207.8 283.7ZM215.2 280.5L218.4 283.7L215.2 286.9L212.0 283.7ZM226.0 249.8L229.2 253.0L226.0 256.2L222.8 253.0ZM218.3 262.8L221.5 266.0L218.3 269.2L215.1 266.0ZM232.4 269.3L235.6 272.5L232.4 275.7L229.2 272.5ZM230.1 272.8L233.3 276.0L230.1 279.2L226.9 276.0ZM220.1 275.8L223.3 279.0L220.1 282.2L216.9 279.0ZM216.0 278.7L219.2 281.9L216.0 285.1L212.8 281.9ZM218.9 279.9L222.1 283.1L218.9 286.3L215.7 283.1ZM243.6 278.1L246.8 281.3L243.6 284.5L240.4 281.3ZM256.6 248.6L259.8 251.8L256.6 255.0L253.4 251.8ZM256.6 259.2L259.8 262.4L256.6 265.6L253.4 262.4ZM281.3 246.3L284.5 249.5L281.3 252.7L278.1 249.5ZM276.6 257.5L279.8 260.7L276.6 263.9L273.4 260.7ZM280.8 259.8L284.0 263.0L280.8 266.2L277.6 263.0ZM286.6 244.5L289.8 247.7L286.6 250.9L283.4 247.7ZM296.0 249.2L299.2 252.4L296.0 255.6L292.8 252.4ZM277.2 258.1L280.4 261.3L277.2 264.5L274.0 261.3ZM280.7 259.2L283.9 262.4L280.7 265.6L277.5 262.4ZM294.3 263.4L297.5 266.6L294.3 269.8L291.1 266.6ZM303.7 265.7L306.9 268.9L303.7 272.1L300.5 268.9ZM301.9 276.9L305.1 280.1L301.9 283.3L298.7 280.1ZM310.2 288.7L313.4 291.9L310.2 295.1L307.0 291.9ZM317.2 266.9L320.4 270.1L317.2 273.3L314.0 270.1ZM324.9 262.8L328.1 266.0L324.9 269.2L321.7 266.0ZM332.0 265.7L335.2 268.9L332.0 272.1L328.8 268.9ZM333.7 269.8L336.9 273.0L333.7 276.2L330.5 273.0ZM327.3 285.2L330.5 288.4L327.3 291.6L324.1 288.4ZM333.7 287.5L336.9 290.7L333.7 293.9L330.5 290.7ZM340.2 247.5L343.4 250.7L340.2 253.9L337.0 250.7ZM337.9 254.5L341.1 257.7L337.9 260.9L334.7 257.7ZM343.2 262.8L346.4 266.0L343.2 269.2L340.0 266.0ZM163.3 301.8L166.5 305.0L163.3 308.2L160.1 305.0ZM176.3 306.0L179.5 309.2L176.3 312.4L173.1 309.2ZM179.8 323.0L183.0 326.2L179.8 329.4L176.6 326.2ZM197.5 301.8L200.7 305.0L197.5 308.2L194.3 305.0ZM202.2 299.5L205.4 302.7L202.2 305.9L199.0 302.7ZM204.0 303.6L207.2 306.8L204.0 310.0L200.8 306.8ZM217.8 301.8L221.0 305.0L217.8 308.2L214.6 305.0ZM204.6 292.4L207.8 295.6L204.6 298.8L201.4 295.6ZM210.5 291.8L213.7 295.0L210.5 298.2L207.3 295.0ZM202.8 284.7L206.0 287.9L202.8 291.1L199.6 287.9ZM179.8 282.4L183.0 285.6L179.8 288.8L176.6 285.6ZM186.9 282.4L190.1 285.6L186.9 288.8L183.7 285.6ZM251.3 293.6L254.5 296.8L251.3 300.0L248.1 296.8ZM224.2 296.5L227.4 299.7L224.2 302.9L221.0 299.7ZM237.2 296.5L240.4 299.7L237.2 302.9L234.0 299.7ZM223.0 320.7L226.2 323.9L223.0 327.1L219.8 323.9ZM248.9 318.9L252.1 322.1L248.9 325.3L245.7 322.1ZM264.9 305.4L268.1 308.6L264.9 311.8L261.7 308.6ZM293.1 294.2L296.3 297.4L293.1 300.6L289.9 297.4ZM310.2 290.0L313.4 293.2L310.2 296.4L307.0 293.2ZM301.9 312.4L305.1 315.6L301.9 318.8L298.7 315.6ZM309.0 307.1L312.2 310.3L309.0 313.5L305.8 310.3ZM317.8 310.1L321.0 313.3L317.8 316.5L314.6 313.3ZM327.3 285.9L330.5 289.1L327.3 292.3L324.1 289.1ZM333.7 288.3L336.9 291.5L333.7 294.7L330.5 291.5ZM339.0 298.9L342.2 302.1L339.0 305.3L335.8 302.1ZM329.0 307.1L332.2 310.3L329.0 313.5L325.8 310.3ZM333.7 308.3L336.9 311.5L333.7 314.7L330.5 311.5ZM339.0 316.0L342.2 319.2L339.0 322.4L335.8 319.2ZM358.9 301.5L362.1 304.7L358.9 307.9L355.7 304.7ZM340.6 298.6L343.8 301.8L340.6 305.0L337.4 301.8ZM340.6 315.7L343.8 318.9L340.6 322.1L337.4 318.9ZM370.6 299.8L373.8 303.0L370.6 306.2L367.4 303.0ZM379.5 299.8L382.7 303.0L379.5 306.2L376.3 303.0ZM393.6 278.6L396.8 281.8L393.6 285.0L390.4 281.8ZM398.3 286.8L401.5 290.0L398.3 293.2L395.1 290.0ZM409.5 288.0L412.7 291.2L409.5 294.4L406.3 291.2ZM419.4 235.3L422.6 238.5L419.4 241.7L416.2 238.5ZM423.6 234.7L426.8 237.9L423.6 241.1L420.4 237.9ZM415.3 243.5L418.5 246.7L415.3 249.9L412.1 246.7ZM416.5 251.8L419.7 255.0L416.5 258.2L413.3 255.0ZM425.9 259.4L429.1 262.6L425.9 265.8L422.7 262.6ZM427.7 257.1L430.9 260.3L427.7 263.5L424.5 260.3ZM415.3 266.5L418.5 269.7L415.3 272.9L412.1 269.7ZM421.8 267.7L425.0 270.9L421.8 274.1L418.6 270.9ZM420.6 275.9L423.8 279.1L420.6 282.3L417.4 279.1ZM433.0 264.2L436.2 267.4L433.0 270.6L429.8 267.4ZM436.5 276.5L439.7 279.7L436.5 282.9L433.3 279.7ZM438.3 234.7L441.5 237.9L438.3 241.1L435.1 237.9ZM436.5 243.5L439.7 246.7L436.5 249.9L433.3 246.7ZM446.5 232.3L449.7 235.5L446.5 238.7L443.3 235.5ZM458.3 234.7L461.5 237.9L458.3 241.1L455.1 237.9ZM452.4 245.9L455.6 249.1L452.4 252.3L449.2 249.1ZM450.1 250.0L453.3 253.2L450.1 256.4L446.9 253.2ZM453.6 252.4L456.8 255.6L453.6 258.8L450.4 255.6ZM438.9 255.9L442.1 259.1L438.9 262.3L435.7 259.1ZM461.9 240.6L465.1 243.8L461.9 247.0L458.7 243.8ZM461.9 245.3L465.1 248.5L461.9 251.7L458.7 248.5ZM476.6 232.3L479.8 235.5L476.6 238.7L473.4 235.5ZM479.5 240.6L482.7 243.8L479.5 247.0L476.3 243.8ZM470.1 250.0L473.3 253.2L470.1 256.4L466.9 253.2ZM475.4 252.4L478.6 255.6L475.4 258.8L472.2 255.6ZM469.5 264.2L472.7 267.4L469.5 270.6L466.3 267.4ZM475.4 257.7L478.6 260.9L475.4 264.1L472.2 260.9ZM477.9 234.1L481.1 237.3L477.9 240.5L474.7 237.3ZM482.1 230.0L485.3 233.2L482.1 236.4L478.9 233.2ZM492.7 230.6L495.9 233.8L492.7 237.0L489.5 233.8ZM508.0 231.2L511.2 234.4L508.0 237.6L504.8 234.4ZM508.0 240.6L511.2 243.8L508.0 247.0L504.8 243.8ZM515.7 242.4L518.9 245.6L515.7 248.8L512.5 245.6ZM522.1 231.2L525.3 234.4L522.1 237.6L518.9 234.4ZM526.8 235.9L530.0 239.1L526.8 242.3L523.6 239.1ZM477.9 247.1L481.1 250.3L477.9 253.5L474.7 250.3ZM483.8 251.8L487.0 255.0L483.8 258.2L480.6 255.0ZM488.0 250.0L491.2 253.2L488.0 256.4L484.8 253.2ZM492.7 249.4L495.9 252.6L492.7 255.8L489.5 252.6ZM497.4 254.1L500.6 257.3L497.4 260.5L494.2 257.3ZM476.2 257.1L479.4 260.3L476.2 263.5L473.0 260.3ZM553.6 246.6L556.8 249.8L553.6 253.0L550.4 249.8ZM557.1 253.0L560.3 256.2L557.1 259.4L553.9 256.2ZM410.9 288.0L414.1 291.2L410.9 294.4L407.7 291.2ZM420.3 278.0L423.5 281.2L420.3 284.4L417.1 281.2ZM415.6 268.0L418.8 271.2L415.6 274.4L412.4 271.2ZM422.7 268.0L425.9 271.2L422.7 274.4L419.5 271.2ZM436.8 278.0L440.0 281.2L436.8 284.4L433.6 281.2ZM450.6 248.9L453.8 252.1L450.6 255.3L447.4 252.1ZM454.1 246.5L457.3 249.7L454.1 252.9L450.9 249.7ZM453.0 252.4L456.2 255.6L453.0 258.8L449.8 255.6ZM462.4 245.3L465.6 248.5L462.4 251.7L459.2 248.5ZM468.9 263.6L472.1 266.8L468.9 270.0L465.7 266.8ZM470.0 250.6L473.2 253.8L470.0 257.0L466.8 253.8ZM477.7 247.7L480.9 250.9L477.7 254.1L474.5 250.9ZM475.4 257.1L478.6 260.3L475.4 263.5L472.2 260.3ZM483.6 251.8L486.8 255.0L483.6 258.2L480.4 255.0ZM488.3 249.5L491.5 252.7L488.3 255.9L485.1 252.7ZM493.0 248.9L496.2 252.1L493.0 255.3L489.8 252.1ZM498.3 254.2L501.5 257.4L498.3 260.6L495.1 257.4ZM508.3 242.4L511.5 245.6L508.3 248.8L505.1 245.6ZM389.5 272.3L392.7 275.5L389.5 278.7L386.3 275.5Z" fill="#4a58a6" stroke="#343d86" stroke-width="1.3" stroke-linejoin="miter" paint-order="stroke"/>
</g>
<g fill="none" stroke="#000" stroke-width="1.5">
<rect x="58.5" y="6.7" width="533.0" height="378.5"/>
</g>
<path d="M58.50 385.20v-7M58.50 6.70v7M66.11 385.20v-3.5M66.11 6.70v3.5M73.73 385.20v-3.5M73.73 6.70v3.5M81.34 385.20v-3.5M81.34 6.70v3.5M88.96 385.20v-3.5M88.96 6.70v3.5M96.57 385.20v-3.5M96.57 6.70v3.5M104.19 385.20v-3.5M104.19 6.70v3.5M111.80 385.20v-3.5M111.80 6.70v3.5M119.41 385.20v-3.5M119.41 6.70v3.5M127.03 385.20v-3.5M127.03 6.70v3.5M134.64 385.20v-7M134.64 6.70v7M142.26 385.20v-3.5M142.26 6.70v3.5M149.87 385.20v-3.5M149.87 6.70v3.5M157.49 385.20v-3.5M157.49 6.70v3.5M165.10 385.20v-3.5M165.10 6.70v3.5M172.71 385.20v-3.5M172.71 6.70v3.5M180.33 385.20v-3.5M180.33 6.70v3.5M187.94 385.20v-3.5M187.94 6.70v3.5M195.56 385.20v-3.5M195.56 6.70v3.5M203.17 385.20v-3.5M203.17 6.70v3.5M210.79 385.20v-7M210.79 6.70v7M218.40 385.20v-3.5M218.40 6.70v3.5M226.01 385.20v-3.5M226.01 6.70v3.5M233.63 385.20v-3.5M233.63 6.70v3.5M241.24 385.20v-3.5M241.24 6.70v3.5M248.86 385.20v-3.5M248.86 6.70v3.5M256.47 385.20v-3.5M256.47 6.70v3.5M264.09 385.20v-3.5M264.09 6.70v3.5M271.70 385.20v-3.5M271.70 6.70v3.5M279.31 385.20v-3.5M279.31 6.70v3.5M286.93 385.20v-7M286.93 6.70v7M294.54 385.20v-3.5M294.54 6.70v3.5M302.16 385.20v-3.5M302.16 6.70v3.5M309.77 385.20v-3.5M309.77 6.70v3.5M317.39 385.20v-3.5M317.39 6.70v3.5M325.00 385.20v-3.5M325.00 6.70v3.5M332.61 385.20v-3.5M332.61 6.70v3.5M340.23 385.20v-3.5M340.23 6.70v3.5M347.84 385.20v-3.5M347.84 6.70v3.5M355.46 385.20v-3.5M355.46 6.70v3.5M363.07 385.20v-7M363.07 6.70v7M370.69 385.20v-3.5M370.69 6.70v3.5M378.30 385.20v-3.5M378.30 6.70v3.5M385.91 385.20v-3.5M385.91 6.70v3.5M393.53 385.20v-3.5M393.53 6.70v3.5M401.14 385.20v-3.5M401.14 6.70v3.5M408.76 385.20v-3.5M408.76 6.70v3.5M416.37 385.20v-3.5M416.37 6.70v3.5M423.99 385.20v-3.5M423.99 6.70v3.5M431.60 385.20v-3.5M431.60 6.70v3.5M439.21 385.20v-7M439.21 6.70v7M446.83 385.20v-3.5M446.83 6.70v3.5M454.44 385.20v-3.5M454.44 6.70v3.5M462.06 385.20v-3.5M462.06 6.70v3.5M469.67 385.20v-3.5M469.67 6.70v3.5M477.29 385.20v-3.5M477.29 6.70v3.5M484.90 385.20v-3.5M484.90 6.70v3.5M492.51 385.20v-3.5M492.51 6.70v3.5M500.13 385.20v-3.5M500.13 6.70v3.5M507.74 385.20v-3.5M507.74 6.70v3.5M515.36 385.20v-7M515.36 6.70v7M522.97 385.20v-3.5M522.97 6.70v3.5M530.59 385.20v-3.5M530.59 6.70v3.5M538.20 385.20v-3.5M538.20 6.70v3.5M545.81 385.20v-3.5M545.81 6.70v3.5M553.43 385.20v-3.5M553.43 6.70v3.5M561.04 385.20v-3.5M561.04 6.70v3.5M568.66 385.20v-3.5M568.66 6.70v3.5M576.27 385.20v-3.5M576.27 6.70v3.5M583.89 385.20v-3.5M583.89 6.70v3.5M591.50 385.20v-7M591.50 6.70v7M58.50 385.20h10.5M591.50 385.20h-10.5M58.50 328.23h5.5M591.50 328.23h-5.5M58.50 294.90h5.5M591.50 294.90h-5.5M58.50 271.26h5.5M591.50 271.26h-5.5M58.50 252.92h5.5M591.50 252.92h-5.5M58.50 237.93h5.5M591.50 237.93h-5.5M58.50 225.27h5.5M591.50 225.27h-5.5M58.50 214.29h5.5M591.50 214.29h-5.5M58.50 204.61h5.5M591.50 204.61h-5.5M58.50 195.95h10.5M591.50 195.95h-10.5M58.50 138.98h5.5M591.50 138.98h-5.5M58.50 105.65h5.5M591.50 105.65h-5.5M58.50 82.01h5.5M591.50 82.01h-5.5M58.50 63.67h5.5M591.50 63.67h-5.5M58.50 48.68h5.5M591.50 48.68h-5.5M58.50 36.02h5.5M591.50 36.02h-5.5M58.50 25.04h5.5M591.50 25.04h-5.5M58.50 15.36h5.5M591.50 15.36h-5.5" fill="none" stroke="#000" stroke-width="1.4"/>
<g font-size="15.3" fill="#000">
<text x="58.50" y="404" text-anchor="middle">0</text><text x="134.64" y="404" text-anchor="middle">10</text><text x="210.79" y="404" text-anchor="middle">20</text><text x="286.93" y="404" text-anchor="middle">30</text><text x="363.07" y="404" text-anchor="middle">40</text><text x="439.21" y="404" text-anchor="middle">50</text><text x="515.36" y="404" text-anchor="middle">60</text><text x="591.50" y="404" text-anchor="middle">70</text>
<text x="44.3" y="15" text-anchor="end">10</text><text x="44.9" y="8.6" font-size="8.5">&#8722;3</text>
<text x="44.3" y="200.4" text-anchor="end">10</text><text x="44.9" y="193.8" font-size="8.5">&#8722;4</text>
<text x="44.3" y="384.9" text-anchor="end">10</text><text x="44.9" y="378.3" font-size="8.5">&#8722;5</text>
<text x="325" y="420" text-anchor="middle">LAT Boresight Angle</text>
<text transform="translate(15 195.8) rotate(-90)" text-anchor="middle">Flux Upper Limit 95% (photons cm<tspan font-size="8.5" dy="-6.5">&#8722;2</tspan><tspan dy="6.5"> s</tspan><tspan font-size="8.5" dy="-6.5">&#8722;1</tspan><tspan dy="6.5">)</tspan></text>
<path d="M82.2 28.7L85.4 31.9L82.2 35.1L79.0 31.9Z" fill="#4a58a6" stroke="#343d86" stroke-width="1.3" paint-order="stroke"/>
<circle cx="82.1" cy="47.3" r="3.45" fill="#8a2a08" stroke="#5e1804" stroke-width="1.1" paint-order="stroke"/>
<text x="91.9" y="37.3">Likelihood (30s)</text>
<text x="91.9" y="52.3">Counting (30s)</text>
</g>
</svg>
</body></html>
